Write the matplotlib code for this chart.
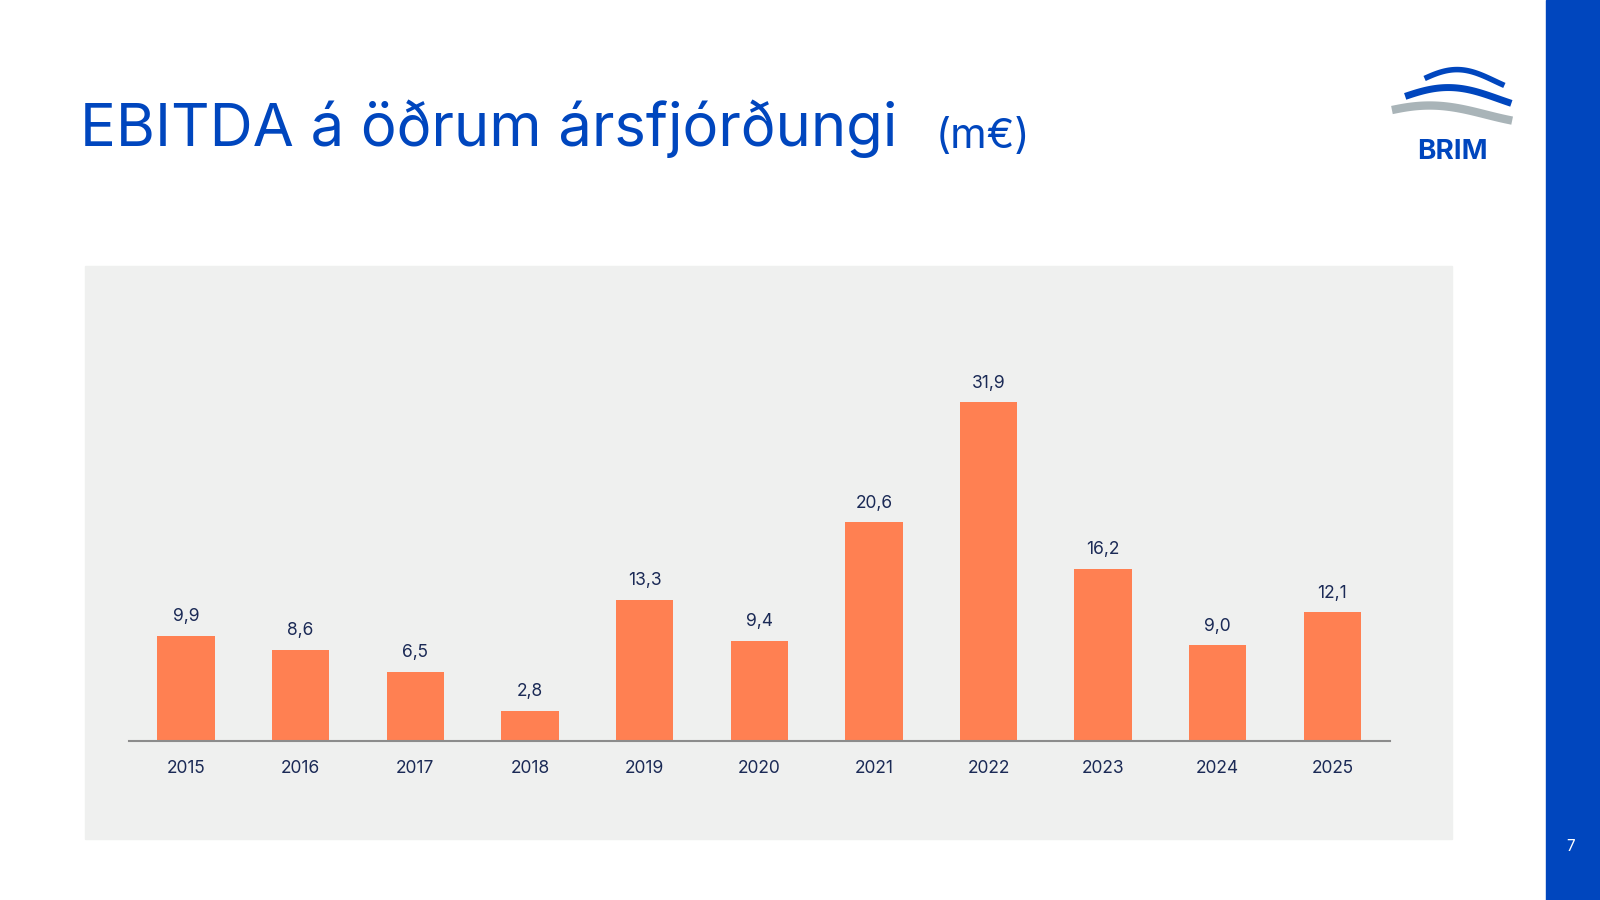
import matplotlib.pyplot as plt
import matplotlib.patches as mpatches
import numpy as np

# ---- data ----
years = ["2015", "2016", "2017", "2018", "2019", "2020", "2021", "2022", "2023", "2024", "2025"]
ebitda = [9.9, 8.6, 6.5, 2.8, 13.3, 9.4, 20.6, 31.9, 16.2, 9.0, 12.1]

BLUE = "#0046BE"
ORANGE = "#FF8052"
NAVY = "#1B2A56"
PANEL = "#EFF0EF"

plt.rcParams["font.family"] = "Inter"

fig = plt.figure(figsize=(16, 9), dpi=100)
fig.patch.set_facecolor("white")

# right blue stripe
fig.add_artist(mpatches.Rectangle((1515 / 1568, 0), 1 - 1515 / 1568, 1,
                                  transform=fig.transFigure, color=BLUE, zorder=0))
fig.text(1539 / 1568, 1 - 830 / 882, "7", color="white", fontsize=11,
         ha="center", va="center")

# title
fig.text(78 / 1568, 1 - 126 / 882, "EBITDA á öðrum ársfjórðungi", color=BLUE,
         fontsize=43, ha="left", va="center")
fig.text(917 / 1568, 1 - 134 / 882, "(m€)", color=BLUE, fontsize=30,
         ha="left", va="center")

# logo
lax = fig.add_axes([1362 / 1568, 1 - 165 / 882, 122 / 1568, 110 / 882])
lax.set_xlim(0, 1)
lax.set_ylim(0, 1)
lax.axis("off")
t = np.linspace(0, 1, 50)
lax.plot(0.05 + 0.9 * t, 0.48 + 0.08 * np.sin(np.pi * (t + 0.2)), color="#A9B4B8", lw=6)
lax.plot(0.15 + 0.8 * t, 0.62 + 0.1 * np.sin(np.pi * (t + 0.1)), color=BLUE, lw=5)
lax.plot(0.3 + 0.6 * t, 0.78 + 0.1 * np.sin(np.pi * (t + 0.1)), color=BLUE, lw=4)
lax.text(0.5, 0.15, "BRIM", color=BLUE, fontsize=20, fontweight="bold",
         ha="center", va="center")

# panel
fig.add_artist(mpatches.Rectangle((83 / 1568, 1 - 822 / 882), 1340 / 1568, 561 / 882,
                                  transform=fig.transFigure, color=PANEL, zorder=0))

ax = fig.add_axes([126 / 1568, 1 - 726 / 882, 1236 / 1568, 364 / 882])
ax.patch.set_alpha(0)
x = np.arange(len(years))
bars = ax.bar(x, ebitda, width=0.5, color=ORANGE, zorder=2)
for xi, v in zip(x, ebitda):
    ax.text(xi, v + 1.0, f"{v:.1f}".replace(".", ","), ha="center", va="bottom",
            fontsize=12.5, color=NAVY)
ax.set_xlim(-0.5, len(years) - 0.5)
ax.set_ylim(0, 35)
ax.set_xticks(x)
ax.set_xticklabels(years, fontsize=12.5, color=NAVY)
ax.tick_params(axis="x", length=0, pad=14)
ax.set_yticks([])
for s in ["top", "right", "left"]:
    ax.spines[s].set_visible(False)
ax.spines["bottom"].set_color("#8C8C8C")
ax.spines["bottom"].set_linewidth(1.5)

fig.savefig("out.png", dpi=100)
